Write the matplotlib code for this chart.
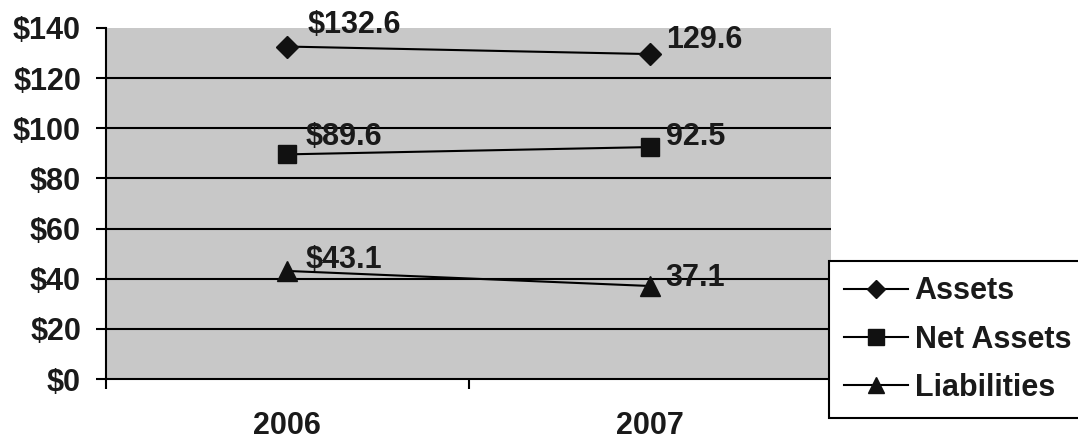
import numpy as np
import matplotlib
matplotlib.use("Agg")
import matplotlib.pyplot as plt

plt.rcParams['font.family'] = ['Liberation Sans', 'DejaVu Sans']
plt.rcParams['font.weight'] = 'bold'

years = ['2006', '2007']
assets = [132.6, 129.6]
net_assets = [89.6, 92.5]
liabilities = [43.1, 37.1]
asset_labels = ['$132.6', '129.6']
net_labels = ['$89.6', '92.5']
liab_labels = ['$43.1', '37.1']
y_ticks = [0, 20, 40, 60, 80, 100, 120, 140]

fig = plt.figure(figsize=(10.78, 4.40), dpi=100)
ax = fig.add_axes([106 / 1078, 61 / 440, 725 / 1078, 351 / 440])
ax.set_facecolor('#c8c8c8')

x = np.arange(len(years)) + 0.5

# (name, values, labels, marker, size, label offsets in pixels)
series = [
    ('Assets', assets, asset_labels, 'D', 11, [(20, 22), (16, 14)]),
    ('Net Assets', net_assets, net_labels, 's', 13, [(18, 17), (16, 10)]),
    ('Liabilities', liabilities, liab_labels, '^', 14, [(18, 11), (16, 8)]),
]

for name, vals, labs, mk, ms, offs in series:
    ax.plot(x, vals, color='black', lw=1.5, marker=mk, markersize=ms,
            markerfacecolor='#111111', markeredgecolor='#111111', label=name, zorder=3)
    for xi, v, lab, (dx, dy) in zip(x, vals, labs, offs):
        ax.annotate(lab, (xi, v), xytext=(dx, dy), textcoords='offset pixels',
                    ha='left', va='center', fontsize=22, fontweight='bold',
                    color='#1a1a1a', zorder=4)

ax.set_xlim(0, 2)
ax.set_ylim(0, 140)
ax.set_yticks(y_ticks)
ax.set_yticklabels([f'${t}' for t in y_ticks])
ax.set_xticks([0, 1, 2])
ax.set_xticklabels([])
ax.set_xticks(x, minor=True)
ax.set_xticklabels(years, minor=True)

for t in y_ticks[1:-1]:
    ax.axhline(t, color='black', lw=1.5, zorder=1)

ax.tick_params(axis='y', direction='out', length=7, width=1.5, pad=11,
               labelsize=22, colors='black', labelcolor='#1a1a1a')
ax.tick_params(axis='x', which='major', direction='out', length=7, width=1.5)
ax.tick_params(axis='x', which='minor', length=0, pad=23, labelsize=22,
               labelcolor='#1a1a1a')

for s in ['top', 'right']:
    ax.spines[s].set_visible(False)
for s in ['left', 'bottom']:
    ax.spines[s].set_linewidth(1.5)
    ax.spines[s].set_color('black')

leg = fig.legend(loc='upper left', bbox_to_anchor=(829 / 1078, 1 - 261 / 440),
                 fontsize=22, frameon=True, fancybox=False, edgecolor='black',
                 framealpha=1, handlelength=2.1, handletextpad=0.2,
                 labelspacing=0.6, borderpad=0.5, borderaxespad=0,
                 markerscale=0.85)
leg.get_frame().set_linewidth(1.5)
for t in leg.get_texts():
    t.set_color('#1a1a1a')

fig.savefig('out.png', dpi=100)
